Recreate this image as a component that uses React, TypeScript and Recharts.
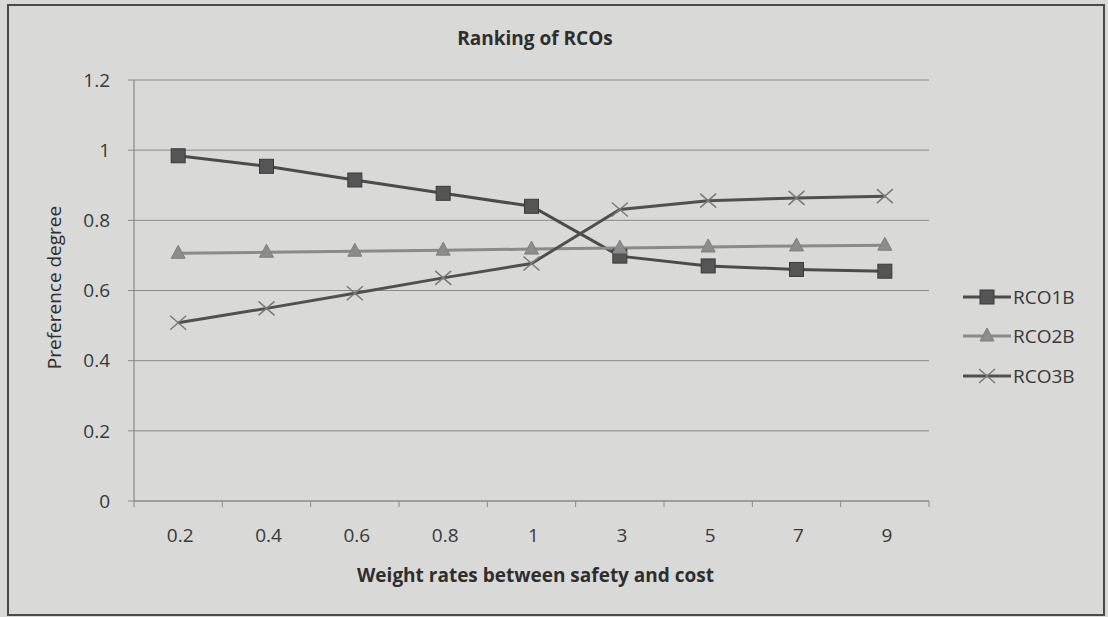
import { LineChart, Line, XAxis, YAxis, CartesianGrid, Legend, Label } from 'recharts';

// Weight rates (safety : cost) along the x axis
const rates = ['0.2', '0.4', '0.6', '0.8', '1', '3', '5', '7', '9'];
const rco1b = [0.984, 0.954, 0.915, 0.877, 0.84, 0.698, 0.67, 0.66, 0.655];
const rco2b = [0.706, 0.709, 0.712, 0.715, 0.718, 0.721, 0.724, 0.727, 0.729];
const rco3b = [0.508, 0.549, 0.592, 0.636, 0.677, 0.831, 0.856, 0.864, 0.869];
const yTicks = [0, 0.2, 0.4, 0.6, 0.8, 1, 1.2];

const data = rates.map((rate, i) => ({
    rate,
    RCO1B: rco1b[i],
    RCO2B: rco2b[i],
    RCO3B: rco3b[i],
}));

const W = 1108;
const H = 617;
const LEFT = 134;
const RIGHT = 179;
const TOP = 80;
const BOTTOM = 116;
const LEGEND_W = 130;
const BAND = (W - LEFT - RIGHT) / rates.length;

const INK = '#383838';
const GRID = '#8a8a8a';

type MarkerKind = 'square' | 'triangle' | 'cross';

function Marker({ kind, cx, cy }: { kind: MarkerKind; cx: number; cy: number }) {
    if (kind === 'square') {
        return <rect x={cx - 7} y={cy - 7} width={14} height={14} fill="#555" stroke="#3a3a3a" strokeWidth={1} />;
    }
    if (kind === 'triangle') {
        return (
            <polygon
                points={`${cx},${cy - 8} ${cx + 7},${cy + 5} ${cx - 7},${cy + 5}`}
                fill="#8c8c8c"
                stroke="#7f7f7f"
                strokeWidth={1}
            />
        );
    }
    return (
        <g stroke="#7a7a7a" strokeWidth={1.5}>
            <line x1={cx - 8} y1={cy - 7} x2={cx + 8} y2={cy + 7} />
            <line x1={cx - 8} y1={cy + 7} x2={cx + 8} y2={cy - 7} />
        </g>
    );
}

const series: { key: string; color: string; marker: MarkerKind }[] = [
    { key: 'RCO1B', color: '#4b4b4b', marker: 'square' },
    { key: 'RCO2B', color: '#8a8a8a', marker: 'triangle' },
    { key: 'RCO3B', color: '#505050', marker: 'cross' },
];

function RateTick(props: any) {
    const { x, y, payload, index } = props;
    const half = BAND / 2;
    return (
        <g>
            <line x1={x - half} x2={x - half} y1={y} y2={y + 6} stroke={GRID} />
            {index === rates.length - 1 && (
                <line x1={x + half} x2={x + half} y1={y} y2={y + 6} stroke={GRID} />
            )}
            <text x={x + 2} y={y + 36} textAnchor="middle" dominantBaseline="middle" fill={INK} fontSize={19}>
                {payload.value}
            </text>
        </g>
    );
}

function LegendBox() {
    return (
        <div style={{ display: 'flex', flexDirection: 'column' }}>
            {series.map((s) => (
                <div key={s.key} style={{ display: 'flex', alignItems: 'center', height: 39.5 }}>
                    <svg width={50} height={20}>
                        <line x1={1} x2={49} y1={10} y2={10} stroke={s.color} strokeWidth={3} />
                        <Marker kind={s.marker} cx={25} cy={10} />
                    </svg>
                    <span style={{ fontSize: 19, color: INK, marginLeft: 1 }}>{s.key}</span>
                </div>
            ))}
        </div>
    );
}

export default function App() {
    return (
        <div
            style={{
                position: 'absolute',
                left: 0,
                top: 0,
                width: W,
                height: H,
                background: '#d9d9d7',
                fontFamily: '"Open Sans", Lato, sans-serif',
                overflow: 'hidden',
            }}
        >
            <div
                style={{
                    position: 'absolute',
                    left: 7,
                    top: 4,
                    width: 1094,
                    height: 608,
                    border: '2px solid #4a4a4a',
                }}
            />
            <div
                style={{
                    position: 'absolute',
                    left: 0,
                    width: 1070,
                    top: 25,
                    textAlign: 'center',
                    fontWeight: 700,
                    fontSize: 19,
                    color: '#2e2e2e',
                }}
            >
                Ranking of RCOs
            </div>
            <LineChart
                width={W}
                height={H}
                data={data}
                margin={{ top: TOP, right: RIGHT - LEGEND_W, bottom: BOTTOM - 76, left: 0 }}
                style={{ position: 'absolute', left: 0, top: 0 }}
            >
                <CartesianGrid vertical={false} stroke={GRID} strokeWidth={1} />
                <XAxis
                    dataKey="rate"
                    scale="band"
                    height={76}
                    axisLine={{ stroke: GRID }}
                    tickLine={false}
                    tickSize={0}
                    tickMargin={0}
                    interval={0}
                    tick={<RateTick />}
                >
                    <Label
                        content={({ viewBox }: any) => (
                            <text
                                x={viewBox.x + viewBox.width / 2 + 4}
                                y={577}
                                textAnchor="middle"
                                dominantBaseline="middle"
                                fontWeight={700}
                                fontSize={19}
                                fill="#2e2e2e"
                            >
                                Weight rates between safety and cost
                            </text>
                        )}
                    />
                </XAxis>
                <YAxis
                    width={LEFT}
                    domain={[0, 1.2]}
                    ticks={yTicks}
                    axisLine={{ stroke: '#777' }}
                    tickLine={{ stroke: GRID }}
                    tickSize={6}
                    tickMargin={18}
                    tick={{ fill: INK, fontSize: 19 }}
                >
                    <Label
                        content={({ viewBox }: any) => (
                            <text
                                x={56}
                                y={viewBox.y + viewBox.height / 2 - 3}
                                transform={`rotate(-90 56 ${viewBox.y + viewBox.height / 2 - 3})`}
                                textAnchor="middle"
                                dominantBaseline="middle"
                                fontSize={19}
                                fill="#2e2e2e"
                            >
                                Preference degree
                            </text>
                        )}
                    />
                </YAxis>
                <Legend
                    layout="vertical"
                    align="right"
                    verticalAlign="middle"
                    content={<LegendBox />}
                    wrapperStyle={{ width: LEGEND_W, left: 962, top: 277, right: 'auto' }}
                />
                {series.map((s) => (
                    <Line
                        key={s.key}
                        dataKey={s.key}
                        stroke={s.color}
                        strokeWidth={3}
                        isAnimationActive={false}
                        dot={(p: any) => <Marker key={`${s.key}-${p.index}`} kind={s.marker} cx={p.cx} cy={p.cy} />}
                        activeDot={false}
                    />
                ))}
            </LineChart>
        </div>
    );
}
